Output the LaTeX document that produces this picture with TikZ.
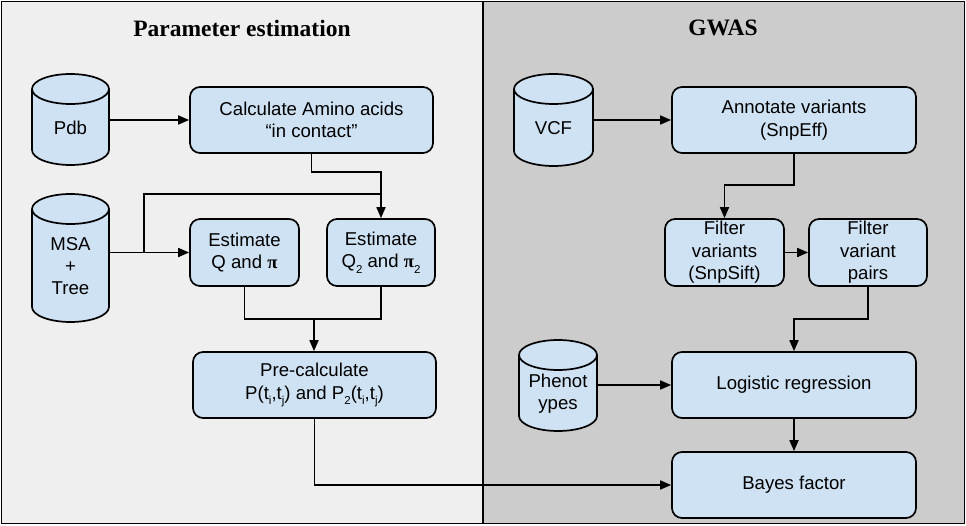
\documentclass[tikz,border=0pt]{standalone}
\usepackage{fontspec}
\setmainfont{Liberation Sans}
\newfontfamily\serifttl{Liberation Serif}
\usetikzlibrary{arrows.meta,calc}
\definecolor{boxblue}{HTML}{CFE2F3}
\definecolor{leftbg}{HTML}{EFEFEF}
\definecolor{rightbg}{HTML}{CCCCCC}
\newcommand\mysub[1]{\raisebox{-0.55ex}{\fontsize{11.5}{11.5}\selectfont #1}}
\newcommand\mycyl[6]{%
  \pgfmathsetmacro\myrx{(#4-#2)/2}%
  \draw[cylline] (#2,{#3-15}) -- (#2,{#5+15})
     arc[start angle=180,end angle=360,x radius=\myrx,y radius=15]
     -- (#4,{#3-15})
     arc[start angle=0,end angle=180,x radius=\myrx,y radius=15] -- cycle;
  \draw[cylline,fill=none] (#2,{#3-15})
     arc[start angle=180,end angle=360,x radius=\myrx,y radius=15];
  \node[cylnode,minimum width={(#4-#2)*1pt},minimum height={(#3-#5)*1pt}] (#1) at ({(#2+#4)/2},{(#3+#5)/2}) {};
  \node[cyltext] (#1-t) at ($(#1.center)+(0,-8)$) {#6};
}
\begin{document}
\begin{tikzpicture}[x=1pt,y=1pt,
  box/.style={draw=black, line width=1.7pt, fill=boxblue, rounded corners=10pt,
    align=center, inner sep=0pt, font=\fontsize{18.6}{22.5}\selectfont},
  cylline/.style={draw=black, line width=1.7pt, fill=boxblue},
  cylnode/.style={draw=none, inner sep=0pt, outer sep=0pt},
  cyltext/.style={align=center, inner sep=0pt, font=\fontsize{18.6}{22}\selectfont},
  conn/.style={line width=1.7pt, draw=black},
  arr/.style={conn, -{Triangle[length=11pt,width=9pt]}},
  ttl/.style={font=\serifttl\bfseries\fontsize{23.5}{28}\selectfont},
  panel/.style={draw=black, line width=1.7pt}]
\useasboundingbox (0,0) rectangle (966,525);
% panels
\draw[panel, fill=leftbg] (1.5,1.5) rectangle (483,523.5);
\draw[panel, fill=rightbg] (483,1.5) rectangle (964.5,523.5);
\node[ttl] (t1) at (242,497) {Parameter estimation};
\node[ttl] (t2) at (723,497) {GWAS};
% left boxes
\node[box, minimum width=243pt, minimum height=66pt] (calc) at (311.5,405) {Calculate Amino acids\\“in contact”};
\node[box, minimum width=109pt, minimum height=67pt] (estQ) at (244.5,272.5) {Estimate\\Q and {\serifttl\bfseries π}};
\node[box, minimum width=108pt, minimum height=67pt] (estQ2) at (381,272.5) {Estimate\\Q\mysub{2} and {\serifttl\bfseries π}\mysub{2}};
\node[box, minimum width=243pt, minimum height=66pt] (pre) at (314.5,140) {Pre-calculate\\P(t\mysub{i},t\mysub{j}) and P\mysub{2}(t\mysub{i},t\mysub{j})};
% right boxes
\node[box, minimum width=244pt, minimum height=66pt] (annot) at (794,405) {Annotate variants\\(SnpEff)};
\node[box, minimum width=119pt, minimum height=67pt] (filt) at (724.5,272.5) {Filter\\variants\\(SnpSift)};
\node[box, minimum width=118pt, minimum height=67pt] (pairs) at (868,272.5) {Filter\\variant\\pairs};
\node[box, minimum width=244pt, minimum height=66pt] (logit) at (794,140) {Logistic regression};
\node[box, minimum width=244pt, minimum height=66pt] (bayes) at (794,40) {Bayes factor};
% cylinders
\mycyl{pdb}{32}{451}{109}{360}{Pdb}
\mycyl{msa}{32}{331}{109}{203}{MSA\\+\\Tree}
\mycyl{vcf}{514}{451}{593}{359}{VCF}
\mycyl{pheno}{519}{185}{597}{94}{Phenot\\ypes}
% coordinates
\coordinate (br) at (144,273);
\coordinate (j1) at (381,331);
\coordinate (c1) at (311.5,353);
\coordinate (m1) at (314,206);
\coordinate (a1) at (794,340);
\coordinate (p1) at (868,206);
% left connectors
\draw[arr] (pdb.east |- calc.west) -- (calc.west);
\draw[arr] (msa.east |- estQ.west) -- (estQ.west);
\draw[conn] (br) |- (j1);
\draw[arr] (calc.south) -- (c1) -| (estQ2.north);
\draw[conn] (estQ.south) |- (m1) -| (estQ2.south);
\draw[arr] (m1) -- (pre.north -| m1);
\draw[arr] (pre.south) |- (bayes.west);
% right connectors
\draw[arr] (vcf.east |- annot.west) -- (annot.west);
\draw[arr] (annot.south) -- (a1) -| (filt.north);
\draw[arr] (filt.east) -- (pairs.west);
\draw[arr] (pairs.south) -- (p1) -| (logit.north);
\draw[arr] (pheno.east |- logit.west) -- (logit.west);
\draw[arr] (logit.south) -- (bayes.north);
\end{tikzpicture}
\end{document}
